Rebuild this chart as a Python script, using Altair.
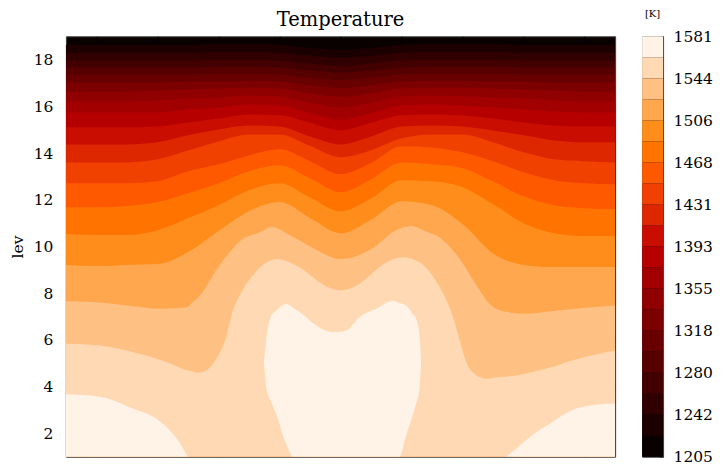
import altair as alt
import pandas as pd

# ---------------- data ----------------
# contour positions (in "lev" units) for each filled-contour boundary, by latitude
lat_grid = [-90, -80, -70, -60, -50, -40, -30, -20, -10, 0, 10, 20, 30, 40, 50, 60, 70, 80, 90]

c01 = [18.64, 18.64, 18.64, 18.64, 18.64, 18.68, 18.68, 18.64, 18.51, 18.42, 18.51, 18.64, 18.68, 18.68, 18.68, 18.64, 18.64, 18.64, 18.64]
c02 = [18.30, 18.30, 18.30, 18.30, 18.30, 18.34, 18.34, 18.30, 18.17, 18.08, 18.17, 18.30, 18.34, 18.34, 18.34, 18.30, 18.30, 18.30, 18.30]
c03 = [17.96, 17.96, 17.96, 17.96, 17.96, 18.00, 18.00, 17.96, 17.83, 17.74, 17.83, 17.96, 18.00, 18.00, 18.00, 17.96, 17.96, 17.96, 17.96]
c04 = [17.66, 17.66, 17.66, 17.66, 17.66, 17.70, 17.70, 17.66, 17.53, 17.44, 17.53, 17.66, 17.70, 17.70, 17.70, 17.66, 17.66, 17.66, 17.66]
c05 = [17.36, 17.36, 17.36, 17.36, 17.36, 17.40, 17.40, 17.36, 17.23, 17.12, 17.23, 17.36, 17.40, 17.40, 17.40, 17.36, 17.36, 17.36, 17.36]
c06 = [17.02, 17.02, 17.02, 17.02, 17.06, 17.06, 17.10, 17.06, 16.90, 16.78, 16.90, 17.06, 17.10, 17.10, 17.06, 17.06, 17.02, 17.02, 17.02]
c07 = [16.63, 16.63, 16.63, 16.68, 16.72, 16.76, 16.80, 16.76, 16.56, 16.40, 16.56, 16.76, 16.80, 16.80, 16.76, 16.72, 16.68, 16.63, 16.63]
c08 = [16.21, 16.21, 16.21, 16.25, 16.34, 16.38, 16.46, 16.42, 16.15, 15.95, 16.15, 16.42, 16.46, 16.42, 16.38, 16.34, 16.25, 16.21, 16.21]
c09 = [15.74, 15.74, 15.74, 15.74, 15.87, 15.95, 16.08, 16.04, 15.72, 15.45, 15.72, 16.04, 16.08, 16.04, 15.95, 15.87, 15.78, 15.74, 15.74]
c10 = [15.10, 15.10, 15.10, 15.14, 15.31, 15.48, 15.65, 15.62, 15.30, 14.98, 15.30, 15.62, 15.65, 15.61, 15.48, 15.31, 15.18, 15.14, 15.14]
c11 = [14.37, 14.37, 14.37, 14.46, 14.76, 15.01, 15.18, 15.14, 14.71, 14.37, 14.71, 15.14, 15.18, 15.14, 14.97, 14.76, 14.54, 14.46, 14.46]
c12 = [13.60, 13.60, 13.60, 13.73, 14.11, 14.50, 14.80, 14.80, 14.31, 13.82, 14.12, 14.63, 14.80, 14.80, 14.46, 14.03, 13.73, 13.65, 13.60]
c13 = [12.71, 12.71, 12.71, 12.79, 13.22, 13.52, 13.90, 14.16, 13.65, 13.09, 13.57, 14.29, 14.24, 14.03, 13.65, 13.18, 12.84, 12.71, 12.66]
c14 = [11.68, 11.68, 11.73, 11.90, 12.28, 12.71, 13.22, 13.48, 12.92, 12.32, 12.88, 13.60, 13.52, 13.35, 12.79, 12.15, 11.77, 11.64, 11.60]
c15 = [10.53, 10.49, 10.49, 10.70, 11.21, 11.77, 12.41, 12.71, 12.10, 11.51, 12.06, 12.84, 12.79, 12.54, 11.81, 11.00, 10.57, 10.45, 10.45]
c16 = [9.21, 9.16, 9.21, 9.25, 9.75, 10.66, 11.51, 11.90, 11.22, 10.57, 11.15, 11.94, 11.77, 10.96, 9.70, 9.21, 9.12, 9.12, 9.12]

c17_lat = [-90, -81.2, -70.0, -59.2, -50.4, -48.4, -45.2, -41.9, -37.3, -32.1, -26.5, -22.6, -16.7, -10.2, 0.0,
           11.1, 17.7, 23.2, 27.5, 33.1, 38.3, 43.9, 49.4, 54.7, 60.2, 71.0, 90]
c17_lev = [7.66, 7.62, 7.47, 7.33, 7.40, 7.62, 8.04, 8.75, 9.60, 10.32, 10.60, 10.83, 10.49, 10.02, 9.46,
           9.98, 10.66, 10.88, 10.67, 10.32, 9.60, 8.47, 7.47, 7.19, 7.12, 7.26, 7.47]

c18_lat = [-90, -78.9, -68.1, -57.0, -50.4, -46.2, -43.9, -40.6, -37.3, -35.4, -33.1, -28.8, -24.2, -21.0, -16.7,
           -11.1, -6.9, -2.6, 0.0, 6.2, 9.5, 15.1, 20.3, 25.9, 30.1, 33.4, 36.7, 38.9, 41.2, 43.2, 47.8, 52.0,
           57.6, 62.8, 69.4, 75.9, 82.5, 90]
c18_lev = [5.84, 5.76, 5.48, 5.05, 4.70, 4.60, 4.70, 5.20, 6.19, 7.19, 7.90, 8.75, 9.32, 9.46, 9.32,
           8.90, 8.47, 8.18, 8.12, 8.40, 8.75, 9.32, 9.54, 9.32, 8.75, 8.04, 7.04, 6.05, 5.05, 4.63, 4.34, 4.41,
           4.48, 4.63, 4.84, 5.12, 5.34, 5.55]

# warmest band (three separate regions)
white_left_lat = [-90, -78.9, -68.1, -59.2, -53.7, -50.1]
white_left_top = [3.67, 3.57, 3.06, 2.51, 1.78, 1.0]
white_right_lat = [54.3, 57.6, 62.8, 69.4, 75.9, 82.5, 90]
white_right_top = [1.0, 1.35, 1.92, 2.49, 2.99, 3.20, 3.28]
white_mid_lat = [-25.1, -24.3, -22.7, -21.0, -20.0, -18.9, -17.8, -15.6, -13.4, -8.0, -2.5, 0.0, 1.9, 6.2,
                 11.7, 17.1, 19.3, 21.5, 23.7, 24.8, 25.9, 26.4]
white_mid_top = [5.05, 6.05, 7.04, 7.26, 7.40, 7.48, 7.54, 7.38, 7.19, 6.62, 6.34, 6.35, 6.40, 6.97,
                 7.33, 7.68, 7.58, 7.47, 7.10, 6.90, 6.19, 5.05]
white_mid_bottom = [5.05, 3.92, 3.35, 2.78, 2.40, 1.92, 1.55, 1.0, 1.0, 1.0, 1.0, 1.0, 1.0, 1.0,
                    1.0, 1.0, 1.0, 1.92, 2.78, 3.30, 3.92, 5.05]

lev_bottom = 1.0
lev_top = 19.0

# colour bar levels [K]
cbar_edges = [1204.6, 1223.4, 1242.3, 1261.1, 1280.0, 1298.8, 1317.6, 1336.5, 1355.3, 1374.2, 1393.0,
              1411.8, 1430.7, 1449.5, 1468.4, 1487.2, 1506.0, 1524.9, 1543.7, 1562.6, 1581.4]
cbar_ticks = [1204.6, 1242.3, 1280.0, 1317.6, 1355.3, 1393.0, 1430.7, 1468.4, 1506.0, 1543.7, 1581.4]

lev_ticks = [2, 4, 6, 8, 10, 12, 14, 16, 18]
lat_ticks = [-80, -60, -40, -20, 0, 20, 40, 60, 80]

# gist_heat, 20 levels
palette = ["#090000", "#1c0000", "#300000", "#420000", "#560000", "#690000", "#7c0000", "#900000",
           "#a20000", "#b60000", "#c90d00", "#dc2700", "#f04100", "#ff5900", "#ff7300", "#ff8d1b",
           "#ffa74f", "#ffc183", "#ffd9b3", "#fff3e7"]

SERIF = "DejaVu Serif"

# ---------------- build table ----------------
rows = []
grid_contours = [c01, c02, c03, c04, c05, c06, c07, c08, c09, c10, c11, c12, c13, c14, c15, c16]
for k, levs in enumerate(grid_contours, start=1):
    for la, lv in zip(lat_grid, levs):
        rows.append({"band": k, "region": "all", "lat": la, "top": lv, "bottom": lev_bottom})
for la, lv in zip(c17_lat, c17_lev):
    rows.append({"band": 17, "region": "all", "lat": la, "top": lv, "bottom": lev_bottom})
for la, lv in zip(c18_lat, c18_lev):
    rows.append({"band": 18, "region": "all", "lat": la, "top": lv, "bottom": lev_bottom})
for la, lv in zip(white_left_lat, white_left_top):
    rows.append({"band": 19, "region": "left", "lat": la, "top": lv, "bottom": lev_bottom})
for la, lv in zip(white_right_lat, white_right_top):
    rows.append({"band": 19, "region": "right", "lat": la, "top": lv, "bottom": lev_bottom})
for la, lt, lb in zip(white_mid_lat, white_mid_top, white_mid_bottom):
    rows.append({"band": 19, "region": "mid", "lat": la, "top": lt, "bottom": lb})
df = pd.DataFrame(rows)

xscale = alt.Scale(domain=[lat_grid[0], lat_grid[-1]], nice=False, zero=False)
yscale = alt.Scale(domain=[lev_bottom, lev_top], nice=False, zero=False)

left_axis = alt.Axis(orient="left", values=lev_ticks, format="d", offset=-6, tickSize=6, domain=False,
                     grid=False, labelPadding=13, labelFont=SERIF, labelFontSize=15.5, labelColor="black",
                     tickColor="#333333", tickWidth=1, title="lev", titleFont=SERIF, titleFontSize=15.5,
                     titleFontWeight="normal", titleColor="black", titlePadding=8)
bottom_axis = alt.Axis(orient="bottom", values=lat_ticks, offset=-6, tickSize=6, domain=False, grid=False,
                       labels=False, title=None, tickColor="#333333", tickWidth=1)
right_axis = alt.Axis(orient="right", values=lev_ticks, offset=-6, tickSize=6, domain=False, grid=False,
                      labels=False, title=None, tickColor="#333333", tickWidth=1)
top_axis = alt.Axis(orient="top", values=lat_ticks, offset=-6, tickSize=6, domain=False, grid=False,
                    labels=False, title=None, tickColor="#000000", tickWidth=1)

layers = []
for k in range(1, 20):
    if k == 1:
        xa, ya = bottom_axis, left_axis
    elif k == 2:
        xa, ya = top_axis, right_axis
    else:
        xa, ya = None, None
    layers.append(
        alt.Chart(df)
        .transform_filter(alt.datum.band == k)
        .mark_area(color=palette[k], interpolate="monotone", clip=True)
        .encode(
            x=alt.X("lat:Q", scale=xscale, axis=xa),
            y=alt.Y("top:Q", scale=yscale, axis=ya),
            y2="bottom:Q",
            detail="region:N",
        )
    )

main = (
    alt.layer(*layers)
    .resolve_axis(x="independent", y="independent")
    .properties(
        width=550,
        height=421,
        title=alt.TitleParams("Temperature", font=SERIF, fontSize=19.5, fontWeight="normal",
                              color="black", anchor="middle", frame="group", offset=5),
    )
)

cbar_df = pd.DataFrame({"band": list(range(20)), "lo": cbar_edges[:-1], "hi": cbar_edges[1:]})
cbar = (
    alt.Chart(cbar_df)
    .mark_rect()
    .encode(
        y=alt.Y("lo:Q", scale=alt.Scale(domain=[cbar_edges[0], cbar_edges[-1]], nice=False, zero=False),
                axis=alt.Axis(orient="right", values=cbar_ticks, format=".0f", offset=-4, tickSize=4,
                              domain=False, grid=False, labelPadding=10, labelFont=SERIF,
                              labelFontSize=15.5, labelColor="black", tickColor="#333333", title=None)),
        y2="hi:Q",
        color=alt.Color("band:O", scale=alt.Scale(domain=list(range(20)), range=palette), legend=None),
    )
    .properties(
        width=21,
        height=421,
        title=alt.TitleParams("[K]", font=SERIF, fontSize=10, fontWeight="normal", color="black",
                              anchor="middle", frame="group", offset=10),
    )
)

chart = (
    alt.hconcat(main, cbar, spacing=27, bounds="flush")
    .properties(padding={"left": 1, "top": 0, "right": 2, "bottom": 2})
    .configure_view(stroke="#444444", strokeWidth=1, fill=palette[0])
)

chart.save("out.html", embed_options={"renderer": "svg", "actions": False})
